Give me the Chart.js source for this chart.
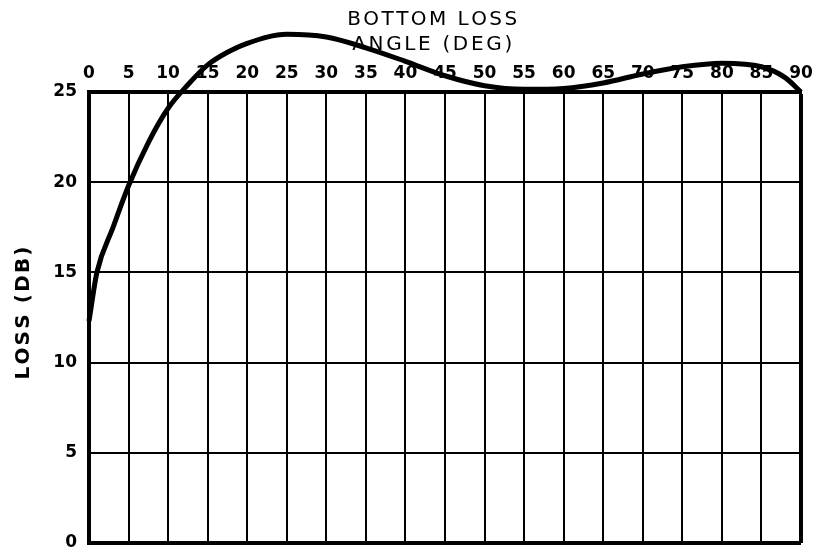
<!DOCTYPE html>
<html>
<head>
<meta charset="utf-8">
<script src="https://cdn.jsdelivr.net/npm/chart.js@4.4.1/dist/chart.umd.min.js"></script>
<style>
  html, body { margin: 0; padding: 0; background: #fff; }
</style>
</head>
<body>
<canvas id="lossChart" width="820" height="553"></canvas>
<script>
// grazing angle (deg) vs bottom loss (dB)
const angleDeg = [0, 1, 3, 5, 7.5, 10, 12.5, 15, 17.5, 20, 25, 30, 35, 40, 45, 50, 55, 60, 65, 70, 75, 80, 85, 88, 90];
const lossDb   = [12.3, 15.0, 17.45, 19.8, 22.2, 24.1, 25.4, 26.5, 27.2, 27.7, 28.2, 28.05, 27.45, 26.7, 25.9, 25.35, 25.15, 25.2, 25.5, 26.0, 26.4, 26.6, 26.4, 25.8, 25.0];

const xTicks = [0, 5, 10, 15, 20, 25, 30, 35, 40, 45, 50, 55, 60, 65, 70, 75, 80, 85, 90];
const yTicks = [0, 5, 10, 15, 20, 25];

const chartTitle = 'BOTTOM LOSS';
const xTitle = 'ANGLE (DEG)';
const yTitle = 'LOSS (DB)';

// draw text stretched letter by letter to a given width
function spacedText(ctx, text, cx, cy, width) {
  const chars = [...text];
  const ws = chars.map(c => ctx.measureText(c).width);
  const total = ws.reduce((a, b) => a + b, 0);
  const gap = (width - total) / (chars.length - 1);
  let x = cx - width / 2;
  ctx.textAlign = 'left';
  chars.forEach((c, i) => { ctx.fillText(c, x, cy); x += ws[i] + gap; });
}

const titles = {
  id: 'titles',
  beforeDatasetsDraw(chart) {
    const { ctx, chartArea: a } = chart;
    ctx.save();
    ctx.fillStyle = '#000';
    ctx.textBaseline = 'middle';
    ctx.font = '500 20px "DejaVu Sans"';
    const cx = a.left + (a.right - a.left) * 0.482;
    spacedText(ctx, chartTitle, cx, 20, 170);
    spacedText(ctx, xTitle, cx, 45, 160);
    ctx.font = 'bold 20px "DejaVu Sans"';
    ctx.translate(24, 313);
    ctx.rotate(-Math.PI / 2);
    spacedText(ctx, yTitle, 0, 0, 133);
    ctx.restore();
  }
};

const tickFont = { family: 'DejaVu Sans', size: 17, weight: 'bold' };

new Chart(document.getElementById('lossChart'), {
  type: 'line',
  data: {
    datasets: [{
      data: angleDeg.map((a, i) => ({ x: a, y: lossDb[i] })),
      borderColor: '#000',
      borderWidth: 5,
      pointRadius: 0,
      cubicInterpolationMode: 'monotone',
      clip: false
    }]
  },
  options: {
    responsive: false,
    animation: false,
    layout: { padding: { left: 0, top: 0, right: 19, bottom: 10 } },
    plugins: { legend: { display: false }, tooltip: { enabled: false } },
    scales: {
      x: {
        type: 'linear', position: 'top', min: 0, max: 90,
        afterBuildTicks: s => { s.ticks = xTicks.map(v => ({ value: v })); },
        afterFit: s => { s.height = 92; s.paddingLeft = 0; s.paddingRight = 0; },
        ticks: { color: '#000', font: tickFont, padding: 8, maxRotation: 0, autoSkip: false },
        grid: { color: '#000', lineWidth: c => (c.tick && c.tick.value === 90 ? 4 : 2), drawTicks: false },
        border: { display: true, color: '#000', width: 4 }
      },
      y: {
        type: 'linear', min: 0, max: 25,
        afterBuildTicks: s => { s.ticks = yTicks.map(v => ({ value: v })); },
        afterFit: s => { s.width = 89; s.paddingTop = 0; s.paddingBottom = 0; },
        ticks: { color: '#000', font: tickFont, padding: 12 },
        grid: { color: '#000', lineWidth: c => (c.tick && c.tick.value === 0 ? 4 : 2), drawTicks: false },
        border: { display: true, color: '#000', width: 4 }
      }
    }
  },
  plugins: [titles]
});
</script>
</body>
</html>
